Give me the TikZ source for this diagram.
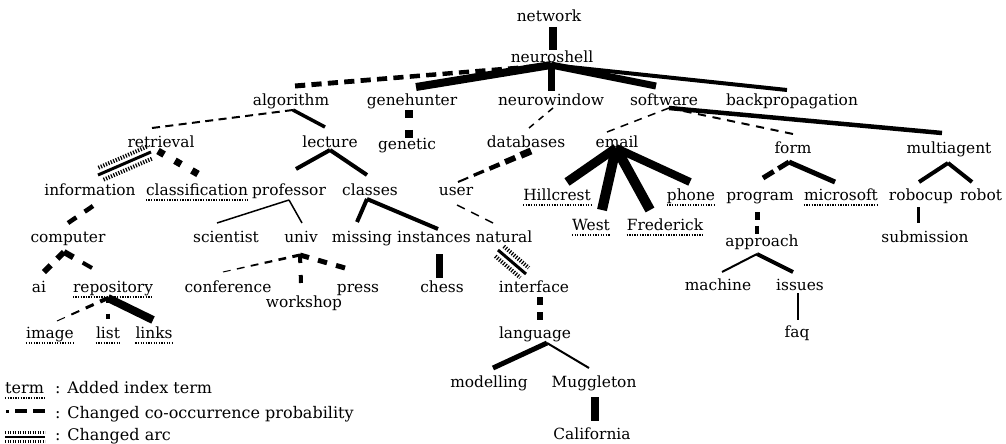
\documentclass[tikz,border=0pt]{standalone}
\usepackage{fontspec}
\setmainfont{DejaVu Serif}
\usetikzlibrary{calc}
\newcommand\ED[5]{\draw[#1] ($(#2.base)+#3$) -- ($(#4.base)+#5$);}
\newcommand\DS[8]{%
  \coordinate (dsA) at ($(#1.base)+#2$);
  \coordinate (dsB) at ($(#3.base)+#4$);
  \pgfmathsetmacro\dsp{1/(#7-1+#8)}%
  \pgfmathtruncatemacro\dsl{#7-1}%
  \foreach \i in {0,...,\dsl}{%
    \pgfmathsetmacro\dsa{\i*\dsp}%
    \pgfmathsetmacro\dsb{(\i+#8)*\dsp}%
    \pgfmathsetmacro\dsw{#5+(#6-#5)*\i/max(#7-1,1)}%
    \draw[line width=\dsw pt] ($(dsA)!\dsa!(dsB)$) -- ($(dsA)!\dsb!(dsB)$);
  }}
\newcommand\CA[4]{%
  \coordinate (caA) at ($(#1.base)+#2$);
  \coordinate (caB) at ($(#3.base)+#4$);
  \draw[line width=3pt] (caA) -- (caB);
  \draw[hatch] ($(caA)!6.5pt!90:(caB)$) -- ($(caB)!6.5pt!-90:(caA)$);
  \draw[hatch] ($(caA)!6.5pt!-90:(caB)$) -- ($(caB)!6.5pt!90:(caA)$);}
\newcommand\UL[1]{\draw[dotl] ([yshift=-5pt]#1.base west) -- ([yshift=-5pt]#1.base east);}
\begin{document}
\begin{tikzpicture}[x=1pt,y=-1pt,
  lab/.style={anchor=base, inner sep=0pt, font=\fontsize{15.4}{18}\selectfont},
  leg/.style={anchor=base west, inner sep=0pt, font=\fontsize{16}{18}\selectfont},
  dotl/.style={line width=2pt, dash pattern=on 1.3pt off 1.3pt},
  hatch/.style={line width=4pt, dash pattern=on 1.2pt off 1.5pt, shorten <=2pt, shorten >=2pt},
  w/.style={line width=#1 pt}]
\useasboundingbox (0,0) rectangle (1006,444);
% nodes
\node[lab] (network) at (549,22) {network};
\node[lab] (neuroshell) at (552,63) {neuroshell};
\node[lab] (algorithm) at (291,105) {algorithm};
\node[lab] (genehunter) at (412,105) {genehunter};
\node[lab] (neurowindow) at (551,105) {neurowindow};
\node[lab] (software) at (664,105) {software};
\node[lab] (backpropagation) at (792,105) {backpropagation};
\node[lab] (retrieval) at (161,147) {retrieval};
\node[lab] (lecture) at (330,147) {lecture};
\node[lab] (genetic) at (407,149) {genetic};
\node[lab] (databases) at (526,147) {databases};
\node[lab] (email) at (617,147) {email};
\node[lab] (form) at (793,153) {form};
\node[lab] (multiagent) at (949,153) {multiagent};
\node[lab] (information) at (90,195) {information};
\node[lab] (classification) at (197,195) {classification};
\node[lab] (professor) at (289,195) {professor};
\node[lab] (classes) at (370,195) {classes};
\node[lab] (user) at (456,195) {user};
\node[lab] (Hillcrest) at (557,200) {Hillcrest};
\node[lab] (phone) at (691,200) {phone};
\node[lab] (program) at (760,200) {program};
\node[lab] (microsoft) at (841,200) {microsoft};
\node[lab] (robocup) at (921,200) {robocup};
\node[lab] (robot) at (981,200) {robot};
\node[lab] (computer) at (68,242) {computer};
\node[lab] (scientist) at (226,242) {scientist};
\node[lab] (univ) at (301,242) {univ};
\node[lab] (missing) at (362,242) {missing};
\node[lab] (instances) at (434,242) {instances};
\node[lab] (natural) at (504,242) {natural};
\node[lab] (West) at (591,230) {West};
\node[lab] (Frederick) at (665,230) {Frederick};
\node[lab] (approach) at (762,246) {approach};
\node[lab] (submission) at (925,242) {submission};
\node[lab] (ai) at (39,292) {ai};
\node[lab] (repository) at (113,292) {repository};
\node[lab] (conference) at (228,292) {conference};
\node[lab] (workshop) at (304,307) {workshop};
\node[lab] (press) at (358,292) {press};
\node[lab] (chess) at (442,292) {chess};
\node[lab] (interface) at (534,292) {interface};
\node[lab] (machine) at (718,290) {machine};
\node[lab] (issues) at (800,290) {issues};
\node[lab] (image) at (50,338) {image};
\node[lab] (list) at (108,338) {list};
\node[lab] (links) at (154,338) {links};
\node[lab] (faq) at (797,337) {faq};
\node[lab] (language) at (535,338) {language};
\node[lab] (modelling) at (489,387) {modelling};
\node[lab] (Muggleton) at (594,387) {Muggleton};
\node[lab] (California) at (592,439) {California};
% underlines for added terms
\foreach \n in {classification,Hillcrest,West,Frederick,phone,microsoft,repository,image,list,links}{\UL{\n}}
% solid edges
\ED{w=8}{network}{(4,5)}{neuroshell}{(1,-13)}
\ED{w=8}{neuroshell}{(-1,2)}{genehunter}{(4,-18)}
\ED{w=7}{neuroshell}{(-1,2)}{neurowindow}{(0,-14)}
\ED{w=7}{neuroshell}{(-1,2)}{software}{(-8,-19)}
\ED{w=4}{neuroshell}{(-1,2)}{backpropagation}{(-5,-15)}
\ED{w=3.5}{algorithm}{(2,5)}{lecture}{(-5,-20)}
\ED{w=4.5}{software}{(5,3)}{multiagent}{(-7,-20)}
\ED{w=4}{lecture}{(0,3)}{professor}{(7,-26)}
\ED{w=4}{lecture}{(0,3)}{classes}{(-3,-20)}
\ED{w=9}{email}{(-1,1)}{Hillcrest}{(10,-18)}
\ED{w=10}{email}{(-1,1)}{West}{(11,-20)}
\ED{w=10}{email}{(-1,1)}{Frederick}{(-15,-20)}
\ED{w=8}{email}{(-1,1)}{phone}{(-1,-18)}
\ED{w=5}{form}{(-4,9)}{microsoft}{(-6,-18)}
\ED{w=4}{multiagent}{(-1,10)}{robocup}{(-2,-18)}
\ED{w=4}{multiagent}{(-1,10)}{robot}{(-9,-18)}
\ED{w=1.5}{professor}{(0,5)}{scientist}{(-9,-19)}
\ED{w=1.5}{professor}{(0,5)}{univ}{(1,-19)}
\ED{w=4}{classes}{(-3,4)}{missing}{(-5,-20)}
\ED{w=4}{classes}{(-3,4)}{instances}{(4,-13)}
\ED{w=3}{robocup}{(-3,7)}{submission}{(-7,-19)}
\ED{w=7}{instances}{(5,12)}{chess}{(-3,-14)}
\ED{w=2}{approach}{(-5,8)}{machine}{(4,-18)}
\ED{w=4}{approach}{(-5,8)}{issues}{(-7,-18)}
\ED{w=8}{repository}{(-5,6)}{links}{(-1,-18)}
\ED{w=1.5}{issues}{(-2,3)}{faq}{(1,-17)}
\ED{w=5}{language}{(12,5)}{modelling}{(4,-19)}
\ED{w=2}{language}{(12,5)}{Muggleton}{(-5,-19)}
\ED{w=8}{Muggleton}{(1,10)}{California}{(3,-18)}
% dashed edges (changed co-occurrence probability)
\DS{neuroshell}{(-1,2)}{algorithm}{(4,-19)}{4}{5}{16}{0.62}
\DS{algorithm}{(2,5)}{retrieval}{(-9,-19)}{2}{2}{11}{0.6}
\DS{genehunter}{(-3,5)}{genetic}{(2,-11)}{8}{8}{2}{0.4}
\DS{neurowindow}{(2,3)}{databases}{(3,-19)}{1.5}{1.5}{3}{0.5}
\DS{software}{(5,3)}{email}{(-10,-15)}{1.5}{1.5}{5}{0.55}
\DS{software}{(5,3)}{form}{(0,-19)}{2}{2}{9}{0.55}
\DS{retrieval}{(-3,4)}{classification}{(1,-21)}{7}{7}{3}{0.36}
\DS{databases}{(5,4)}{user}{(2,-13)}{7}{2}{5}{0.65}
\DS{form}{(-4,9)}{program}{(3,-22)}{5}{5}{2}{0.7}
\DS{information}{(3,11)}{computer}{(0,-19)}{4.5}{4.5}{2}{0.5}
\DS{user}{(1,10)}{natural}{(-11,-19)}{1.5}{1.5}{3}{0.55}
\DS{program}{(-3,12)}{approach}{(-5,-12)}{5}{4}{2}{0.6}
\DS{computer}{(-4,10)}{ai}{(5,-20)}{6}{6}{2}{0.5}
\DS{computer}{(-4,10)}{repository}{(-21,-24)}{6}{4}{2}{0.5}
\DS{univ}{(-1,13)}{conference}{(-5,-20)}{3}{1}{6}{0.55}
\DS{univ}{(-1,13)}{workshop}{(-3,-24)}{4}{4}{2}{0.4}
\DS{univ}{(-1,13)}{press}{(-13,-24)}{5}{5}{3}{0.5}
\DS{repository}{(-5,6)}{image}{(7,-17)}{4}{1}{4}{0.55}
\DS{repository}{(-5,6)}{list}{(0,-19)}{4}{4}{2}{0.35}
\DS{interface}{(6,5)}{language}{(5,-18)}{6}{6}{2}{0.5}
% changed arcs
\CA{retrieval}{(-10,5)}{information}{(8,-20)}
\CA{natural}{(-6,8)}{interface}{(-8,-18)}
% legend
\node[leg] (lterm) at (5,393) {term};
\UL{lterm}
\node[leg] (l1) at (55,393) {: Added index term};
\draw[w=3] (6,411) -- (9,411);
\draw[w=4] (15,411) -- (27,411);
\draw[w=4] (33,411) -- (45,411);
\node[leg] (l2) at (55,418) {: Changed co-occurrence probability};
\draw[w=3, dash pattern=on 1.2pt off 1.3pt] (5,432) -- (45,432);
\draw[w=2] (5,436.5) -- (45,436.5);
\draw[w=3, dash pattern=on 1.2pt off 1.3pt] (5,441) -- (45,441);
\node[leg] (l3) at (55,440) {: Changed arc};
\end{tikzpicture}
\end{document}
